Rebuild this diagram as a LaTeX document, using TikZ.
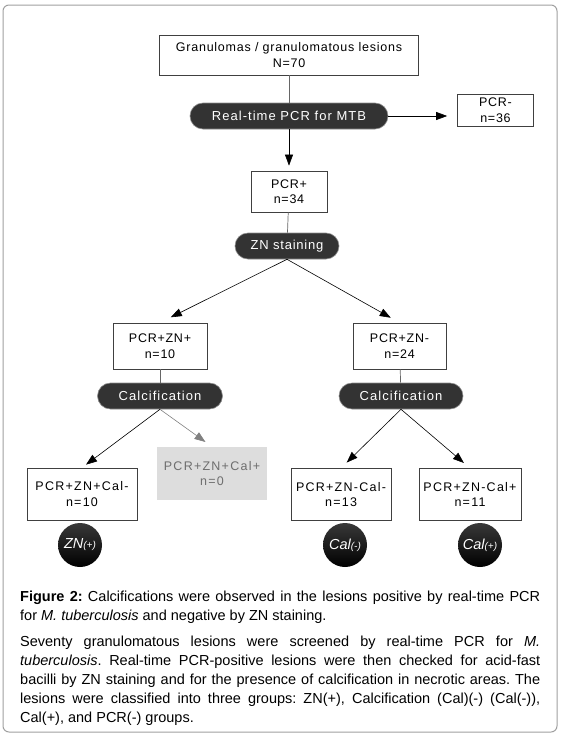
\documentclass[tikz,border=0pt]{standalone}
\usepackage{fontspec}
\setmainfont{Liberation Sans}
\usetikzlibrary{arrows.meta,positioning}

\definecolor{pilldark}{RGB}{51,51,51}
\definecolor{framegray}{RGB}{160,160,160}
\definecolor{boxgray}{RGB}{221,221,221}
\definecolor{textgray}{RGB}{110,110,110}

\begin{document}
\begin{tikzpicture}[
    x=1pt, y=-1pt,
    block/.style={rectangle, draw=black!75, line width=0.7pt, fill=white, align=center, inner sep=2pt,
        font=\fontsize{12.5}{15.5}\selectfont\addfontfeature{LetterSpace=6}},
    leaf/.style={block, minimum width=101pt, minimum height=52pt,
        font=\fontsize{12.5}{15.5}\selectfont\addfontfeature{LetterSpace=10}},
    pill/.style={rectangle, rounded corners=13pt, fill=pilldark, draw=black!45, line width=0.6pt,
        text=white, minimum height=26pt, inner sep=0pt,
        font=\fontsize{13}{13}\selectfont\addfontfeature{LetterSpace=8}},
    group/.style={circle, minimum size=44pt, inner sep=0pt, top color=black!78, middle color=black!96,
        bottom color=black, text=white, font=\fontsize{14.5}{14.5}\selectfont\itshape},
    arrow/.style={-{Triangle[length=11pt,width=8pt]}, line width=0.6pt},
    link/.style={draw=black!60, line width=0.7pt}
]
    \useasboundingbox (0,0) rectangle (561,736);
    \draw[framegray, line width=1pt, rounded corners=6pt] (3,5) rectangle (557,732);

    % top of the tree
    \node (granul) [block, minimum width=259pt, minimum height=40pt] at (289,55) {Granulomas / granulomatous lesions\\N=70};
    \node (rtpcr) [pill, minimum width=198pt] at (289,116) {Real-time PCR for MTB};
    \node (pcrneg) [block, minimum width=76pt, minimum height=32pt] at (495.5,110) {PCR-\\n=36};
    \node (pcrpos) [block, minimum width=76pt, minimum height=41pt] at (289,191.5) {PCR+\\n=34};
    \node (znstain) [pill, minimum width=104pt, font=\fontsize{13}{13}\selectfont\addfontfeature{LetterSpace=6}] at (287,246) {ZN staining};

    % second level
    \node (znpos) [block, minimum width=94pt, minimum height=46pt] at (160,346) {PCR+ZN+\\n=10};
    \node (znneg) [block, minimum width=93pt, minimum height=46pt] at (399.5,346) {PCR+ZN-\\n=24};
    \node (calcl) [pill, minimum width=125pt] at (160,396) {Calcification};
    \node (calcr) [pill, minimum width=124pt] at (401,396) {Calcification};

    % groups
    \node (znposcalneg) [leaf, minimum width=110pt] at (82,494) {PCR+ZN+Cal-\\n=10};
    \node (znposcalpos) [leaf, draw=none, fill=boxgray, text=textgray, minimum width=110pt, minimum height=53pt] at (212,473.5) {PCR+ZN+Cal+\\n=0};
    \node (znnegcalneg) [leaf, minimum width=100pt] at (341,494.5) {PCR+ZN-Cal-\\n=13};
    \node (znnegcalpos) [leaf, minimum width=102pt] at (470,494.5) {PCR+ZN-Cal+\\n=11};

    \node (grpzn) [group] at (80,545) {ZN{\fontsize{10}{10}\selectfont(+)}};
    \node (grpcalneg) [group] at (345,545) {Cal{\fontsize{10}{10}\selectfont(-)}};
    \node (grpcalpos) [group] at (480,545) {Cal{\fontsize{10}{10}\selectfont(+)}};

    \draw [link] (granul) -- (rtpcr);
    \draw [arrow] (rtpcr) -- (pcrpos) [shorten >=5pt];
    \draw [arrow, shorten >=10pt] (rtpcr.east) -- (pcrneg.west |- rtpcr.east);
    \draw [link] (pcrpos) -- (znstain);
    \draw [arrow, shorten >=12pt] (znstain.south) -- (znpos.north);
    \draw [arrow, shorten >=10pt] (znstain.south) -- (znneg.north);
    \draw [link] (znpos) -- (calcl);
    \draw [link] (znneg) -- (calcr);
    \draw [arrow, shorten >=5pt] (calcl.south) -- (znposcalneg.north);
    \draw [arrow, black!50, shorten >=8pt] (calcl.south) -- (znposcalpos.north);
    \draw [arrow, shorten >=8pt] (calcr.south) -- (znnegcalneg.north);
    \draw [arrow, shorten >=8pt] (calcr.south) -- (znnegcalpos.north);

    % caption
    \node (caption) [anchor=north west, text width=520pt, inner sep=0pt, align=justify,
        font=\fontsize{14.5}{19}\selectfont\frenchspacing] at (20,591) {%
        \textbf{Figure 2:} Calcifications were observed in the lesions positive by real-time PCR\linebreak
        for \textit{M. tuberculosis} and negative by ZN staining.\par\vspace{7pt}
        Seventy granulomatous lesions were screened by real-time PCR for \textit{M.}\linebreak
        \textit{tuberculosis}. Real-time PCR-positive lesions were then checked for acid-fast\linebreak
        bacilli by ZN staining and for the presence of calcification in necrotic areas. The\linebreak
        lesions were classified into three groups: ZN(+), Calcification (Cal)(-) (Cal(-)),\linebreak
        Cal(+), and PCR(-) groups.};
\end{tikzpicture}
\end{document}
